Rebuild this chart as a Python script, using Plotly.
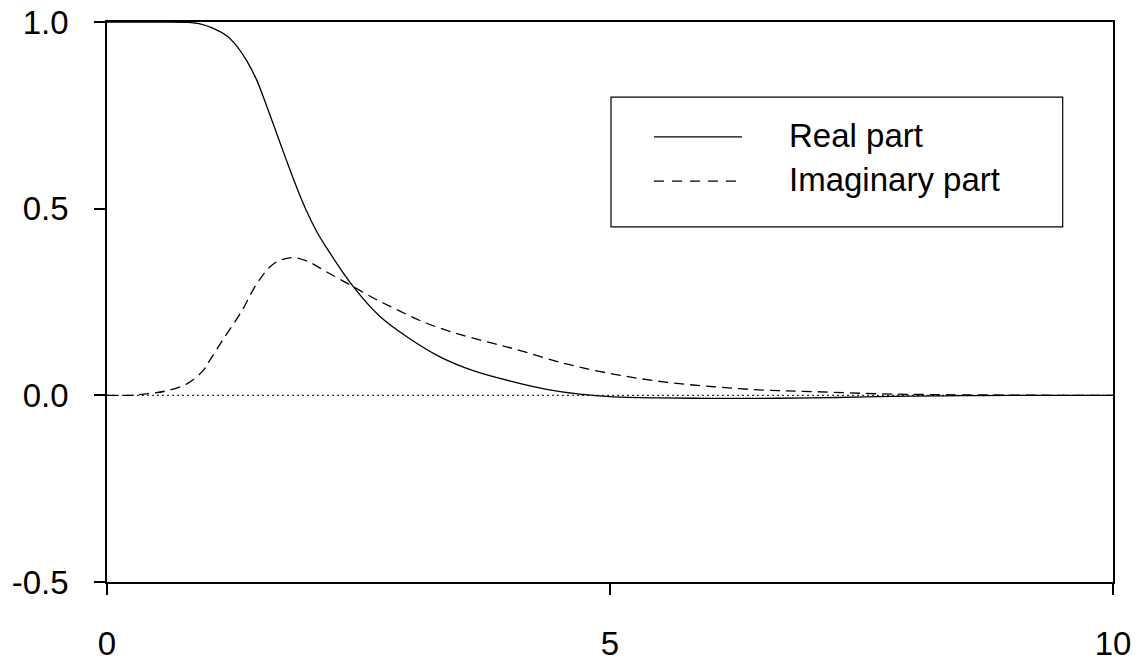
import plotly.graph_objects as go

# Real part of the response
real_x = [0.0, 0.5, 0.8, 0.924, 1.057, 1.19, 1.288, 1.387, 1.487, 1.587, 1.686,
          1.786, 1.886, 1.985, 2.08, 2.183, 2.448, 2.714, 2.98, 3.31, 3.64, 4.04, 4.37,
          4.70, 5.03, 5.5, 6.0, 6.5, 7.0, 7.55, 8.0, 8.5, 9.0, 10.0]
real_y = [1.0, 1.0, 0.999, 0.995, 0.983, 0.963, 0.936, 0.897, 0.845, 0.775, 0.702,
          0.628, 0.557, 0.493, 0.441, 0.395, 0.291, 0.211, 0.157, 0.103, 0.066, 0.036, 0.016,
          0.003, -0.004, -0.007, -0.008, -0.008, -0.007, -0.004, -0.002, -0.001, 0.0, 0.0]

# Imaginary part of the response
imag_x = [0.0, 0.2, 0.43, 0.59, 0.79, 0.955, 1.02, 1.15, 1.338, 1.487, 1.654, 1.84,
          2.0, 2.18, 2.448, 2.68, 2.81, 3.14, 3.47, 3.84, 4.04, 4.54, 5.03, 5.53,
          6.03, 6.52, 7.02, 7.68, 8.2, 8.75, 9.5, 10.0]
imag_y = [0.0, 0.0, 0.005, 0.012, 0.030, 0.066, 0.093, 0.148, 0.225, 0.298, 0.352, 0.369,
          0.358, 0.331, 0.291, 0.256, 0.239, 0.197, 0.166, 0.139, 0.125, 0.086, 0.057, 0.036,
          0.023, 0.014, 0.010, 0.004, 0.002, 0.001, 0.0, 0.0]

x_ticks = [0, 5, 10]
y_ticks = [-0.5, 0.0, 0.5, 1.0]
y_tick_text = ["-0.5", "0.0", "0.5", "1.0"]
series_names = ["Real part", "Imaginary part"]

FONT = "Liberation Sans, Arial, sans-serif"

fig = go.Figure()

fig.add_trace(go.Scatter(
    x=real_x, y=real_y, mode="lines", name=series_names[0],
    line=dict(color="black", width=1.3, shape="spline", smoothing=1.0),
    showlegend=False,
))
fig.add_trace(go.Scatter(
    x=imag_x, y=imag_y, mode="lines", name=series_names[1],
    line=dict(color="black", width=1.3, dash="10px,6px", shape="spline", smoothing=1.0),
    showlegend=False,
))

# dotted zero reference line
fig.add_shape(type="line", xref="x", yref="y", x0=0, x1=10, y0=0, y1=0,
              line=dict(color="#333333", width=1.2, dash="2px,3px"), layer="below")

# legend box with line samples
fig.add_shape(type="rect", xref="paper", yref="paper",
              x0=0.501, x1=0.950, y0=0.634, y1=0.866,
              line=dict(color="black", width=1.2), fillcolor="rgba(0,0,0,0)")
fig.add_shape(type="line", xref="paper", yref="paper",
              x0=0.5437, x1=0.6312, y0=0.795, y1=0.795,
              line=dict(color="black", width=1.2))
fig.add_shape(type="line", xref="paper", yref="paper",
              x0=0.5437, x1=0.6312, y0=0.716, y1=0.716,
              line=dict(color="black", width=1.2, dash="10px,8px"))
for name, yy in zip(series_names, [0.797, 0.718]):
    fig.add_annotation(xref="paper", yref="paper", x=0.676, y=yy, text=name,
                       showarrow=False, xanchor="left", yanchor="middle",
                       font=dict(family=FONT, size=33, color="black"))

fig.update_layout(
    width=1140, height=664,
    margin=dict(l=107, r=27, t=22, b=82),
    paper_bgcolor="white", plot_bgcolor="white",
    font=dict(family=FONT, size=33, color="black"),
    showlegend=False,
)
fig.update_xaxes(
    range=[0, 10], tickvals=x_ticks, ticktext=[str(v) for v in x_ticks],
    showgrid=False, zeroline=False, showline=True, linecolor="black", linewidth=2,
    mirror=True, ticks="outside", ticklen=11, tickwidth=1.5, tickcolor="black",
    ticklabelstandoff=20, automargin=False,
    tickfont=dict(family=FONT, size=33, color="black"),
)
fig.update_yaxes(
    range=[-0.5, 1.0], tickvals=y_ticks, ticktext=y_tick_text,
    showgrid=False, zeroline=False, showline=True, linecolor="black", linewidth=1.5,
    mirror=True, ticks="outside", ticklen=11, tickwidth=1.5, tickcolor="black",
    ticklabelstandoff=19, automargin=False,
    tickfont=dict(family=FONT, size=33, color="black"),
)

fig.write_html("out.html")
